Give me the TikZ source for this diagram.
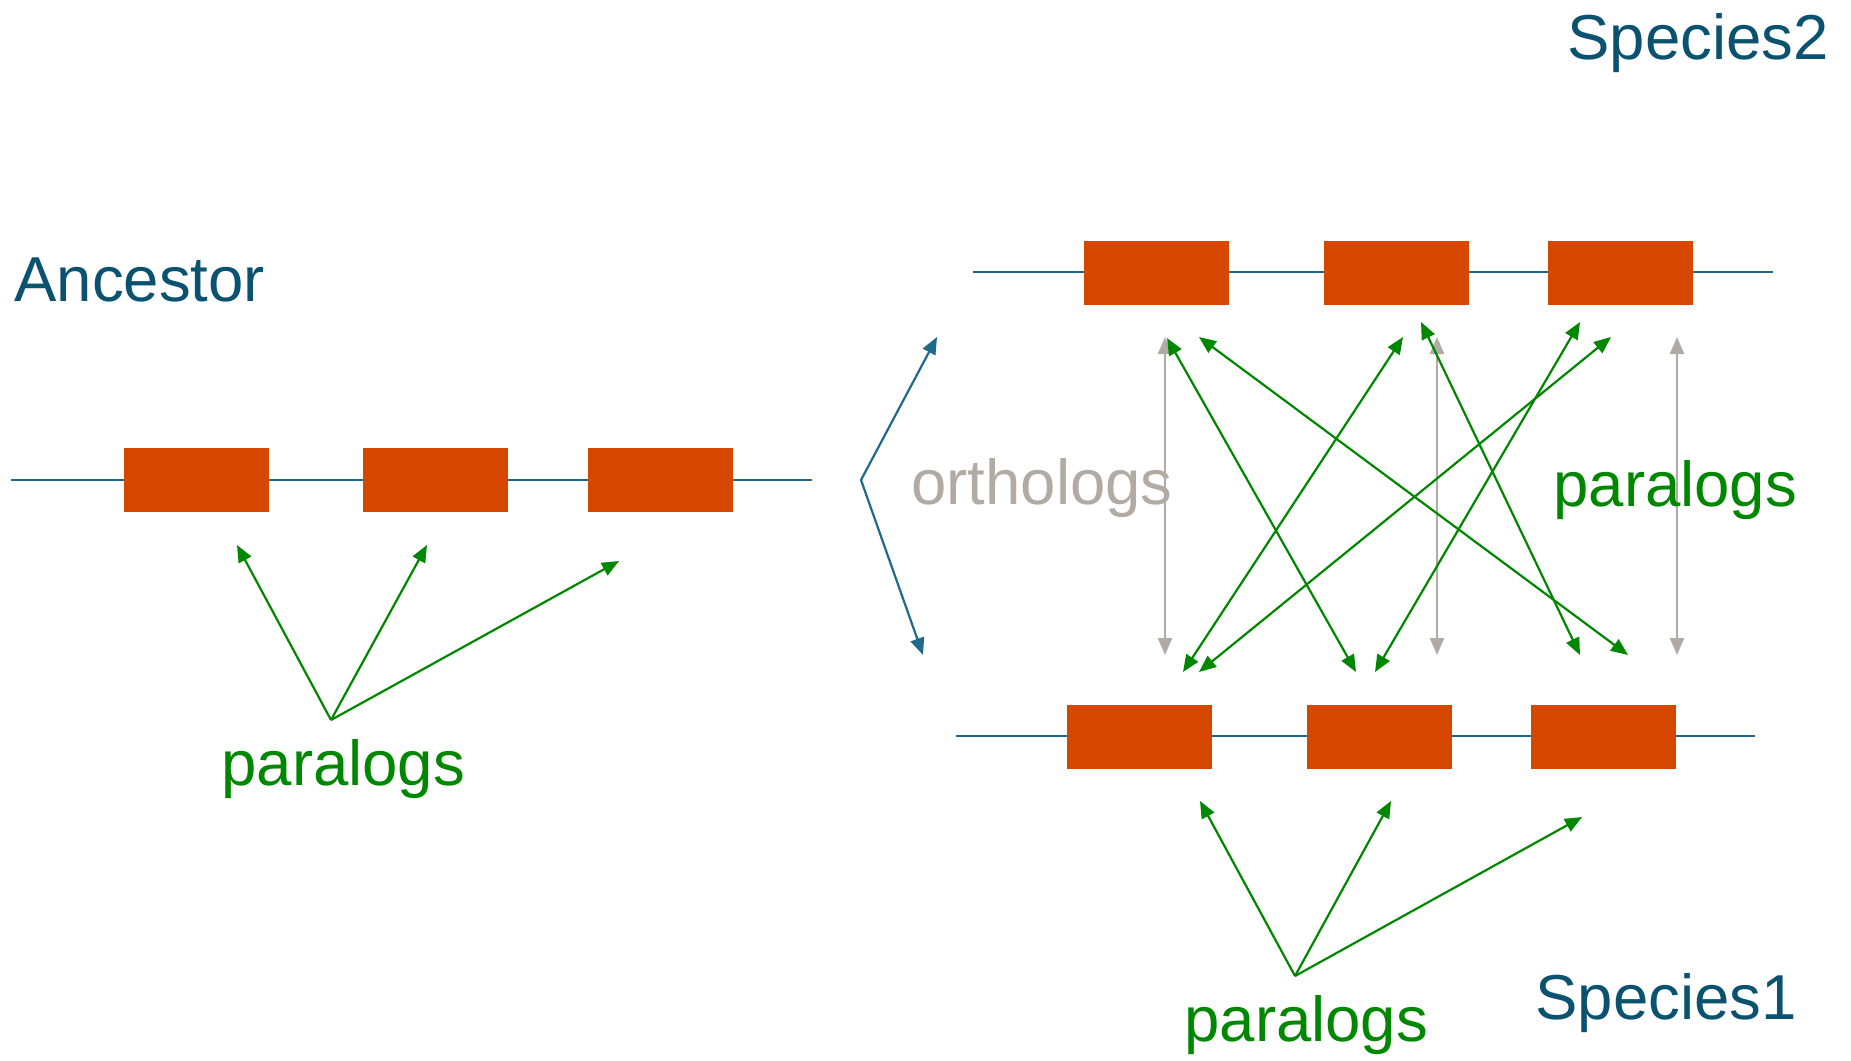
\documentclass[tikz,border=0pt]{standalone}
\usepackage{fontspec}
\setmainfont{Liberation Sans}
\usetikzlibrary{arrows.meta}
\definecolor{gene}{RGB}{214,72,0}
\definecolor{chrom}{RGB}{30,105,140}
\definecolor{labelblue}{RGB}{10,82,112}
\definecolor{para}{RGB}{0,135,0}
\definecolor{ortho}{RGB}{178,171,164}
\tikzset{
  tip/.tip={Triangle[length=8.5pt,width=7pt]},
  genebox/.style={draw=none,fill=gene,minimum width=72.5pt,minimum height=32pt,inner sep=0pt},
  chromline/.style={draw=chrom,line width=1.3pt},
  bigtext/.style={inner sep=0pt,anchor=base west,font=\fontsize{31.75}{38}\selectfont},
  paraarrow/.style={draw=para,line width=1.1pt,-tip},
  paradouble/.style={draw=para,line width=1.1pt,tip-tip},
  orthoarrow/.style={draw=ortho,line width=1.1pt,tip-tip},
  bracket/.style={draw=chrom,line width=1.1pt,tip-tip}
}
\begin{document}
\begin{tikzpicture}[x=0.5pt,y=-0.5pt]
\useasboundingbox (0,0) rectangle (1851,1060);

% ---------- Ancestor ----------
\coordinate (aL) at (11,480);
\coordinate (aR) at (812,480);
\draw[chromline] (aL) -- (aR);
\node[genebox] (a1) at (196,480) {};
\node[genebox] (a2) at (435,480) {};
\node[genebox] (a3) at (660,480) {};
\node[bigtext,text=labelblue] (anc) at (14,301) {Ancestor};

\coordinate (ao) at (331,720);
\coordinate (at1) at (237,545);
\coordinate (at2) at (427,545);
\coordinate (at3) at (619,561);
\draw[paraarrow] (ao) -- (at1);
\draw[paraarrow] (ao) -- (at2);
\draw[paraarrow] (ao) -- (at3);
\node[bigtext,text=para] (apara) at (221,785) {paralogs};

% ---------- bracket ----------
\coordinate (bt) at (937,337);
\coordinate (bv) at (861,480);
\coordinate (bb) at (923,655);
\draw[bracket] (bt) -- (bv) -- (bb);
\node[bigtext,text=ortho] (orth) at (911,504) {orthologs};

% ---------- Species2 ----------
\coordinate (tL) at (973,272);
\coordinate (tR) at (1773,272);
\draw[chromline] (tL) -- (tR);
\node[genebox] (t1) at (1156,272.5) {};
\node[genebox] (t2) at (1396,272.5) {};
\node[genebox] (t3) at (1620,272.5) {};
\node[bigtext,text=labelblue] (sp2) at (1567,59) {Species2};

% ---------- Species1 ----------
\coordinate (sL) at (956,736);
\coordinate (sR) at (1755,736);
\draw[chromline] (sL) -- (sR);
\node[genebox] (s1) at (1139,736.5) {};
\node[genebox] (s2) at (1379,736.5) {};
\node[genebox] (s3) at (1603,736.5) {};
\node[bigtext,text=labelblue] (sp1) at (1535,1019) {Species1};

\coordinate (so) at (1295,976);
\coordinate (st1) at (1200,801);
\coordinate (st2) at (1391,801);
\coordinate (st3) at (1582,817);
\draw[paraarrow] (so) -- (st1);
\draw[paraarrow] (so) -- (st2);
\draw[paraarrow] (so) -- (st3);
\node[bigtext,text=para] (spara) at (1184,1041) {paralogs};

% ---------- orthologs (gray) ----------
\coordinate (o1t) at (1165,337); \coordinate (o1b) at (1165,655);
\coordinate (o2t) at (1437,337); \coordinate (o2b) at (1437,655);
\coordinate (o3t) at (1677,337); \coordinate (o3b) at (1677,655);
\draw[orthoarrow] (o1t) -- (o1b);
\draw[orthoarrow] (o2t) -- (o2b);
\draw[orthoarrow] (o3t) -- (o3b);

% ---------- paralogs between species (green) ----------
\coordinate (pa1) at (1167,338); \coordinate (pa2) at (1356,672);
\coordinate (pb1) at (1199,337); \coordinate (pb2) at (1628,655);
\coordinate (pc1) at (1403,337); \coordinate (pc2) at (1183,672);
\coordinate (pd1) at (1611,337); \coordinate (pd2) at (1199,672);
\coordinate (pe1) at (1421,322); \coordinate (pe2) at (1580,655);
\coordinate (pf1) at (1580,322); \coordinate (pf2) at (1375,672);
\draw[paradouble] (pa1) -- (pa2);
\draw[paradouble] (pb1) -- (pb2);
\draw[paradouble] (pc1) -- (pc2);
\draw[paradouble] (pd1) -- (pd2);
\draw[paradouble] (pe1) -- (pe2);
\draw[paradouble] (pf1) -- (pf2);
\node[bigtext,text=para] (mpara) at (1553,506) {paralogs};
\end{tikzpicture}
\end{document}
